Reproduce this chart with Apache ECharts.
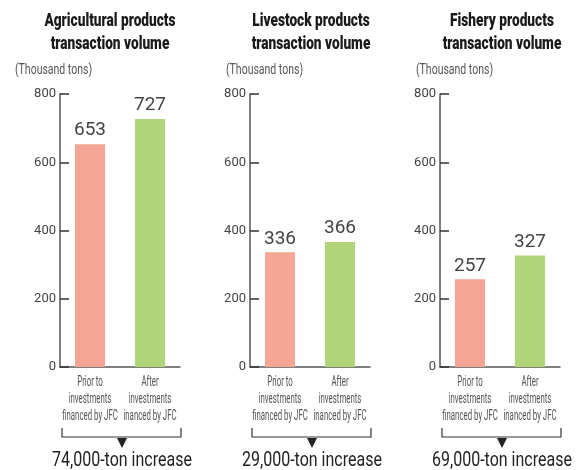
<!DOCTYPE html>
<html>
<head>
<meta charset="utf-8">
<script src="https://cdn.jsdelivr.net/npm/echarts@6/dist/echarts.min.js"></script>
<style>
  html, body { margin: 0; padding: 0; background: #fff; }
  #main { width: 579px; height: 470px; }
</style>
</head>
<body>
<div id="main"></div>
<script>
var titles = ['Agricultural products\ntransaction volume', 'Livestock products\ntransaction volume', 'Fishery products\ntransaction volume'];
var categories = ['Prior to\ninvestments\nfinanced by JFC', 'After\ninvestments\ninanced by JFC'];
var agriValues = [653, 727];
var livestockValues = [336, 366];
var fisheryValues = [257, 327];
var increases = ['74,000-ton increase', '29,000-ton increase', '69,000-ton increase'];
var unitLabel = '(Thousand tons)';
var yTicks = [0, 200, 400, 600, 800];

var chart = echarts.init(document.getElementById('main'));
var font = 'Roboto, "Liberation Sans", sans-serif';
// layout of the three panels (x of y axis, title centre, unit label left)
var axisX = [60, 250, 440];
var titleX = [110, 311, 502];
var unitX = [15, 226, 416];
var panelValues = [agriValues, livestockValues, fisheryValues];
var barColors = ['#f5a593', '#b0d478'];

var option = { grid: [], xAxis: [], yAxis: [], series: [] };

axisX.forEach(function (left, i) {
  option.grid.push({ left: left, top: 94, width: 120, height: 273 });
  option.xAxis.push({
    type: 'category', gridIndex: i, data: categories,
    axisTick: { show: false },
    axisLine: { lineStyle: { color: '#555', width: 1.5 } },
    axisLabel: { show: false }
  });
  option.yAxis.push({
    type: 'value', gridIndex: i, min: yTicks[0], max: yTicks[yTicks.length - 1], interval: 200,
    splitLine: { show: false },
    axisLine: { show: true, lineStyle: { color: '#555', width: 1.5 } },
    axisTick: { show: true, inside: true, length: 9, lineStyle: { color: '#333', width: 1.5 } },
    axisLabel: { fontFamily: font, fontSize: 13, color: '#444', margin: 4 }
  });
  option.series.push({
    type: 'bar', xAxisIndex: i, yAxisIndex: i, barWidth: 30,
    data: panelValues[i].map(function (v, j) {
      return { value: v, itemStyle: { color: barColors[j] } };
    }),
    label: { show: true, position: 'top', distance: 4, fontFamily: font, fontSize: 19, color: '#444' }
  });
});

chart.setOption(option);

// condensed-looking texts: titles, units, category labels, brackets
var graphic = [];
axisX.forEach(function (left, i) {
  graphic.push({
    type: 'text', x: titleX[i], y: 33, scaleX: 0.72,
    style: { text: titles[i], font: '900 19px ' + font, lineHeight: 23, fill: '#1a1a1a', textAlign: 'center', textVerticalAlign: 'middle' }
  });
  graphic.push({
    type: 'text', x: unitX[i], y: 70, scaleX: 0.75,
    style: { text: unitLabel, font: '14px ' + font, fill: '#555', textAlign: 'left', textVerticalAlign: 'middle' }
  });
  categories.forEach(function (c, j) {
    var px = chart.convertToPixel({ xAxisIndex: i }, c);
    graphic.push({
      type: 'text', x: px, y: 399, scaleX: 0.56,
      style: { text: c, font: '14px ' + font, lineHeight: 17, fill: '#555', textAlign: 'center', textVerticalAlign: 'middle' }
    });
  });
  var cx = left + 62;
  graphic.push({
    type: 'polyline', shape: { points: [[left + 2, 428], [left + 2, 437], [left + 121, 437], [left + 121, 428]] },
    style: { stroke: '#333', lineWidth: 1.2, fill: null }
  });
  graphic.push({
    type: 'polygon', shape: { points: [[cx - 5, 438], [cx + 5, 438], [cx, 448]] },
    style: { fill: '#222' }
  });
  graphic.push({
    type: 'text', x: cx, y: 461, scaleX: 0.8,
    style: { text: increases[i], font: '20px ' + font, fill: '#222', textAlign: 'center', textVerticalAlign: 'middle' }
  });
});

chart.setOption({ graphic: graphic });
</script>
</body>
</html>
